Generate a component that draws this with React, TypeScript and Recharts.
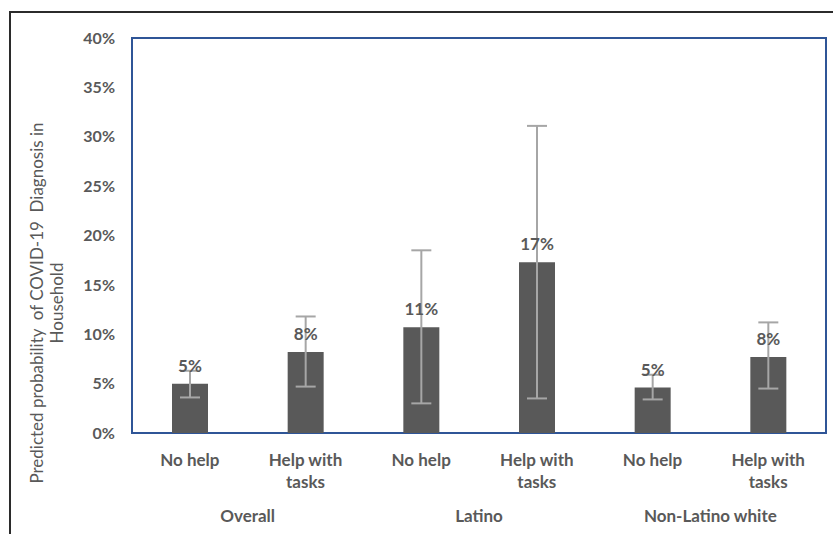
import React from 'react';
import { BarChart, Bar, XAxis, YAxis, ErrorBar, LabelList, ReferenceArea } from 'recharts';

const categories = ['No help', 'Help with\ntasks', 'No help', 'Help with\ntasks', 'No help', 'Help with\ntasks'];
const groups = ['Overall', 'Latino', 'Non-Latino white'];
const groupTicks = [1, 3, 5];
const probability = [0.050, 0.082, 0.107, 0.173, 0.046, 0.077];
const ciLower = [0.036, 0.047, 0.030, 0.035, 0.034, 0.045];
const ciUpper = [0.063, 0.118, 0.185, 0.311, 0.059, 0.112];
const yTicks = [0, 0.05, 0.1, 0.15, 0.2, 0.25, 0.3, 0.35, 0.4];
const yTitleLines = ['Predicted probability  of COVID-19  Diagnosis in', 'Household'];

const data = categories.map((cat, i) => ({
  cat,
  value: probability[i],
  err: [probability[i] - ciLower[i], ciUpper[i] - probability[i]],
  pos: i + 0.5,
}));

const TEXT = '#595959';
const FONT = 'Lato, "Open Sans", sans-serif';

const pct = (v: number) => `${Math.round(v * 100)}%`;

const CatTick = (props: any) => {
  const { x, y, payload } = props;
  const lines = String(payload.value).split('\n');
  return (
    <text x={x} y={y} textAnchor="middle" fill={TEXT} fontSize={17} fontWeight="bold" fontFamily={FONT}>
      {lines.map((l, i) => (
        <tspan key={i} x={x} dy={i === 0 ? '0.71em' : 22}>{l}</tspan>
      ))}
    </text>
  );
};

const YTitle = () => {
  const cx = 43;
  const cy = 303;
  return (
    <text transform={`rotate(-90, ${cx}, ${cy})`} x={cx} y={cy} textAnchor="middle" fill={TEXT} fontSize={17} fontFamily={FONT}>
      {yTitleLines.map((l, i) => (
        <tspan key={i} x={cx} dy={i === 0 ? 0 : 20} style={{ whiteSpace: 'pre' }}>{l}</tspan>
      ))}
    </text>
  );
};

export default function App() {
  return (
    <div style={{ position: 'absolute', left: 0, top: 0, width: 833, height: 534, overflow: 'hidden', background: '#fff', fontFamily: FONT }}>
      <div style={{ position: 'absolute', left: 9, top: 11, width: 900, height: 600, border: '2px solid #2b2b2b' }} />
      <div style={{ position: 'absolute', left: 0, top: 0 }}>
        <BarChart width={833} height={534} data={data} margin={{ top: 38, right: 7, bottom: 0, left: 0 }} barSize={36}>
          <XAxis dataKey="cat" height={60} axisLine={false} tickLine={false} tickSize={0} tickMargin={21} tick={<CatTick />} interval={0} />
          <XAxis xAxisId="grp" type="number" dataKey="pos" domain={[0, 6]} ticks={groupTicks} height={41}
            axisLine={false} tickLine={false} tickSize={0} tickMargin={17} allowDataOverflow
            tickFormatter={(v: number) => groups[(v - 1) / 2]}
            tick={{ fill: TEXT, fontSize: 17, fontWeight: 'bold', fontFamily: FONT }} />
          <YAxis width={132} domain={[0, 0.4]} ticks={yTicks} axisLine={false} tickLine={false} tickSize={0} tickMargin={17}
            tickFormatter={pct} tick={{ fill: TEXT, fontSize: 16, fontWeight: 'bold', fontFamily: FONT }}
            label={{ content: <YTitle /> }} />
          <Bar dataKey="value" fill="#595959" isAnimationActive={false}>
            <ErrorBar dataKey="err" width={10} stroke="#a6a6a6" strokeWidth={2} direction="y" />
            <LabelList dataKey="value" position="top" offset={12} formatter={(v: any) => pct(Number(v))}
              fill={TEXT} fontSize={17} fontWeight="bold" fontFamily={FONT} />
          </Bar>
          <ReferenceArea y1={0} y2={0.4} fill="none" stroke="#2f5597" strokeWidth={2} ifOverflow="visible" />
        </BarChart>
      </div>
    </div>
  );
}
